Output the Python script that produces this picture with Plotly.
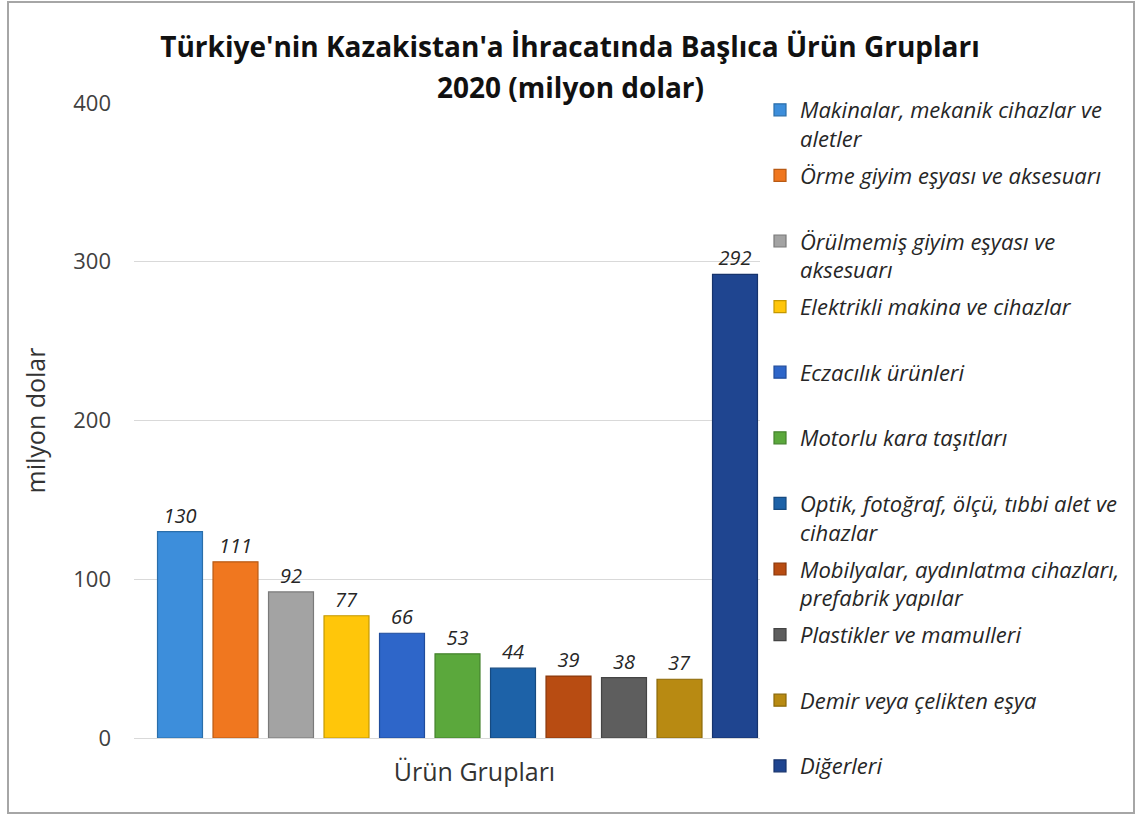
import plotly.graph_objects as go

# ---- data ----
categories = [
    "Makinalar, mekanik cihazlar ve<br>aletler",
    "Örme giyim eşyası ve aksesuarı",
    "Örülmemiş giyim eşyası ve<br>aksesuarı",
    "Elektrikli makina ve cihazlar",
    "Eczacılık ürünleri",
    "Motorlu kara taşıtları",
    "Optik, fotoğraf, ölçü, tıbbi alet ve<br>cihazlar",
    "Mobilyalar, aydınlatma cihazları,<br>prefabrik yapılar",
    "Plastikler ve mamulleri",
    "Demir veya çelikten eşya",
    "Diğerleri",
]
values = [130, 111, 92, 77, 66, 53, 44, 39, 38, 37, 292]
colors = ["#3d8edb", "#f0771f", "#a3a3a3", "#ffc60a", "#2e66c9", "#5ba83c",
          "#1d62a8", "#b84c12", "#5e5e5e", "#b88a12", "#1f4590"]
edge_colors = ["#2a6eaa", "#b85a14", "#7a7a7a", "#c49800", "#204c9c", "#44822c",
               "#164a80", "#8a380c", "#444444", "#8a6808", "#16336c"]
y_ticks = [0, 100, 200, 300, 400]
title_line1 = "Türkiye'nin Kazakistan'a İhracatında Başlıca Ürün Grupları"
title_line2 = "2020 (milyon dolar)"
y_title = "milyon dolar"
x_title = "Ürün Grupları"

# ---- layout geometry (pixels) ----
W, H = 1139, 816
L, R, T, B = 134, 1139 - 815, 103, 78
PW, PH = W - L - R, H - T - B
FONT = "Open Sans"

def px_x(p):
    return (p - L) / PW

def px_y(p):
    return (H - B - p) / PH

fig = go.Figure()
n = len(categories)
for i, (name, v, c, ec) in enumerate(zip(categories, values, colors, edge_colors)):
    # pad single-line legend entries to two lines so entries are evenly spaced
    label = name if ("<br>" in name or i == n - 1) else name + "<br> "
    fig.add_trace(go.Bar(
        x=[i], y=[v], name=label, legendgroup=str(i),
        width=0.81,
        marker=dict(color=c, line=dict(color=ec, width=1.2)),
        text=[v], texttemplate="<i>%{y}</i>", textposition="outside",
        textfont=dict(family=FONT, size=20, color="#262626"),
        cliponaxis=False,
        hoverinfo="name+y",
    ))

unit = 55.5  # px per bar slot
x0 = -(180 - L) / unit
x1 = x0 + PW / unit

fig.update_layout(
    width=W, height=H,
    margin=dict(l=L, r=R, t=T, b=B, autoexpand=False),
    paper_bgcolor="white", plot_bgcolor="white",
    font=dict(family=FONT, color="#404040"),
    showlegend=True,
    title=dict(text="<b>" + title_line1 + "</b>", x=570 / W, xanchor="center",
               y=1 - 47 / H, yanchor="middle", yref="container",
               font=dict(family=FONT, size=28, color="#111111")),
    xaxis=dict(range=[x0, x1], showticklabels=False, showgrid=False,
               zeroline=False, showline=False, fixedrange=True,
               title=dict(text=x_title, standoff=25,
                          font=dict(family=FONT, size=25, color="#333333"))),
    yaxis=dict(range=[0, 400], tickvals=y_ticks, showgrid=True,
               gridcolor="#d9d9d9", gridwidth=1, zeroline=True,
               zerolinecolor="#d9d9d9", zerolinewidth=1,
               ticklabelstandoff=22,
               tickfont=dict(family=FONT, size=22, color="#404040"),
               title=dict(text=y_title, standoff=20,
                          font=dict(family=FONT, size=25, color="#333333"))),
    legend=dict(x=px_x(760), xanchor="left", y=px_y(89), yanchor="top",
                traceorder="grouped", tracegroupgap=5.4, valign="top",
                bgcolor="white", maxheight=800,
                font=dict(family=FONT, size=22, color="#262626", style="italic")),
    annotations=[dict(text="<b>" + title_line2 + "</b>", xref="paper", yref="paper",
                      x=px_x(570), y=px_y(87), xanchor="center", yanchor="middle",
                      showarrow=False,
                      font=dict(family=FONT, size=28, color="#111111"))],
    shapes=[dict(type="rect", xref="paper", yref="paper",
                 x0=px_x(8), x1=px_x(1134), y0=px_y(813), y1=px_y(2),
                 line=dict(color="#a6a6a6", width=2), fillcolor="rgba(0,0,0,0)",
                 layer="above")],
)

fig.write_html("out.html")
